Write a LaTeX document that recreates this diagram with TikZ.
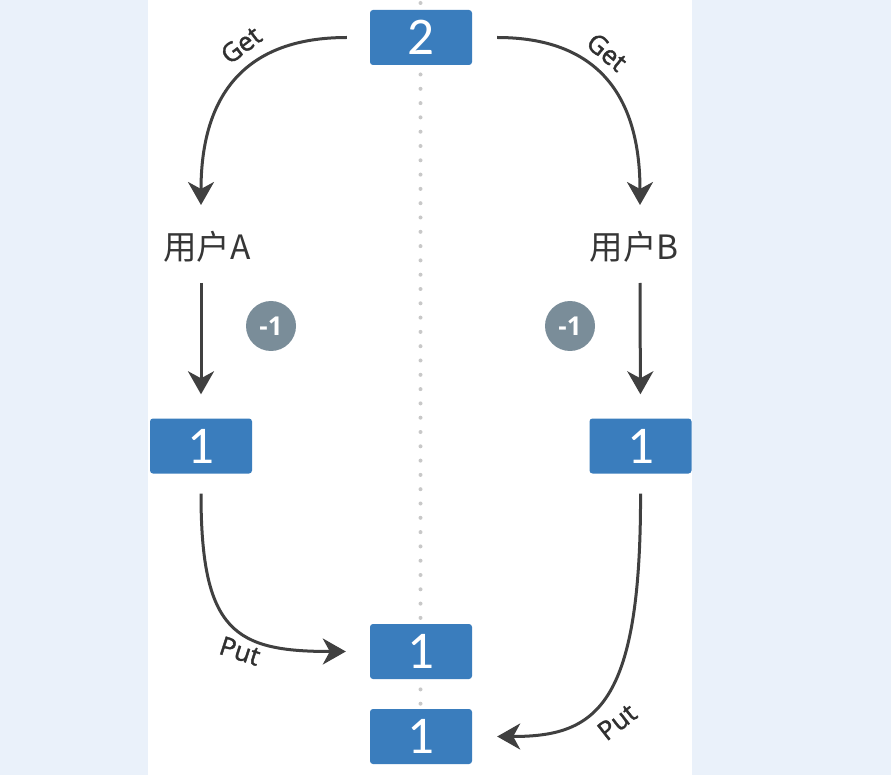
\documentclass[tikz,border=0pt]{standalone}
\usepackage{fontspec}
\setmainfont{Open Sans}
\newfontfamily\cjkfont{Noto Sans CJK SC}
\newfontfamily\digitfont{Carlito}
\newfontfamily\opfont[FakeBold=1.5]{Open Sans}
\usetikzlibrary{arrows.meta}
\definecolor{bgblue}{RGB}{234,241,250}
\definecolor{boxblue}{RGB}{58,125,189}
\definecolor{arrgray}{RGB}{64,64,64}
\definecolor{circgray}{RGB}{122,141,153}
\definecolor{dotgray}{RGB}{200,200,200}
\tikzset{
  valbox/.style={fill=boxblue, rounded corners=3pt, minimum width=102pt, minimum height=55pt, inner sep=0pt, text=white, font=\digitfont\fontsize{53}{53}\selectfont},
  userlbl/.style={inner sep=0pt, text=arrgray!85!black, font=\cjkfont\fontsize{33.5}{33.5}\selectfont},
  minus/.style={circle, fill=circgray, minimum size=50pt, inner sep=0pt, text=white, font=\bfseries\fontsize{26}{26}\selectfont},
  arr/.style={draw=arrgray, line width=3pt, -{Stealth[length=23pt,width=26pt,inset=7pt]}},
  oplbl/.style={text=arrgray!75!black, inner sep=0pt, font=\opfont\fontsize{26}{26}\selectfont}
}
\begin{document}
\begin{tikzpicture}[x=1pt,y=-1pt]
\useasboundingbox (0,0) rectangle (891,775);
\fill[bgblue] (0,0) rectangle (891,775);
\fill[white] (148,0) rectangle (692,775);
\draw[dotgray, line width=4pt, line cap=round, dash pattern=on 0pt off 14.3pt] (420.5,3) -- (420.5,775);

\node[valbox] (b2) at (421,37.5) {2};
\node[valbox] (bL) at (201,446) {1};
\node[valbox] (bR) at (640.5,446) {1};
\node[valbox] (bM1) at (421,651.5) {1};
\node[valbox] (bM2) at (421,736.5) {1};

\node[userlbl] (uA) at (207,247) {用户A};
\node[userlbl] (uB) at (634,247) {用户B};

\node[minus] (cL) at (271,326) {-1};
\node[minus] (cR) at (570,326) {-1};

\coordinate (gA) at (201,205);
\coordinate (gB) at (640,205);
\coordinate (dA) at (201,283);
\coordinate (dB) at (640,283);

\draw[arr, shorten <=23pt] (b2.west) .. controls (245,37.5) and (201,95) .. (gA);
\draw[arr, shorten <=25pt] (b2.east) .. controls (597,37.5) and (640,95) .. (gB);
\draw[arr, shorten >=24pt] (dA) -- (bL.north);
\draw[arr, shorten >=24pt] (dB) -- (bR.north);
\draw[arr, shorten <=20pt, shorten >=24pt] (bL.south) .. controls (201,632) and (235,651.5) .. (bM1.west);
\draw[arr, shorten <=20pt, shorten >=25pt] (bR.south) .. controls (641,708) and (595,736.5) .. (bM2.east);

\node[oplbl, rotate=37] (getL) at (241,45) {Get};
\node[oplbl, rotate=-40] (getR) at (607,52) {Get};
\node[oplbl, rotate=-18] (putL) at (240,651) {Put};
\node[oplbl, rotate=38] (putR) at (617,722) {Put};
\end{tikzpicture}
\end{document}
